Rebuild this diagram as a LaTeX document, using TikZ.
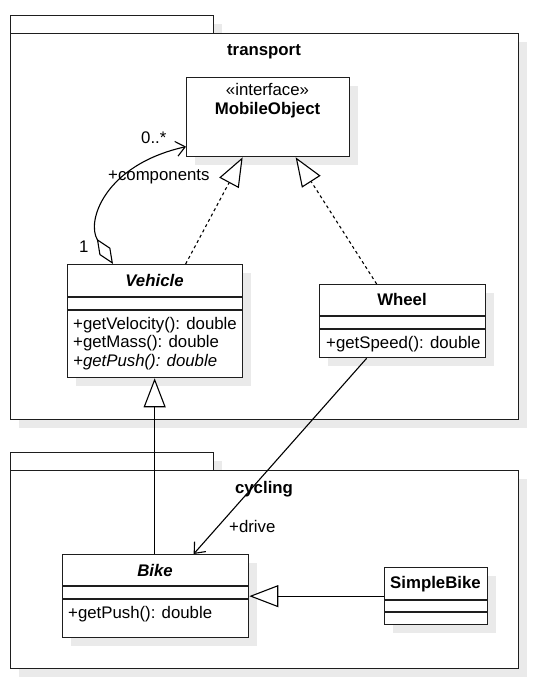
\documentclass[tikz,border=0pt]{standalone}
\usepackage{fontspec}
\setmainfont{Liberation Sans}
\usetikzlibrary{arrows.meta,calc,shadows}
\definecolor{shd}{RGB}{234,234,234}
\definecolor{ln}{RGB}{30,30,30}
\begin{document}
\begin{tikzpicture}[x=1pt,y=-1pt,
  font=\fontsize{16.8}{19}\selectfont,
  box/.style={draw=ln, line width=1.3pt, fill=white, inner sep=0pt, anchor=north west,
    drop shadow={shadow xshift=8pt,shadow yshift=-8pt,fill=shd,opacity=1}},
  sepline/.style={draw=ln, line width=1.3pt},
  txt/.style={inner sep=0pt, anchor=base},
  ltxt/.style={inner sep=0pt, anchor=base west},
  bold/.style={txt, font=\fontsize{16.8}{19}\selectfont\bfseries},
  bolditalic/.style={txt, font=\fontsize{16.8}{19}\selectfont\bfseries\itshape},
  conn/.style={draw=black, line width=1.1pt},
  realize/.style={conn, dash pattern=on 3pt off 3pt, -{Triangle[open,fill=white,length=29pt,width=22pt]}},
  generalize/.style={conn, -{Triangle[open,fill=white,length=29pt,width=22pt]}},
  navig/.style={conn, -{Straight Barb[length=9pt,width=15pt]}},
  aggr/.style={conn, {Diamond[open,fill=white,length=30pt,width=13pt]}-{Straight Barb[length=9pt,width=15pt]}}
]
\useasboundingbox (0,0) rectangle (537,684);

% transport package
\node[box, minimum width=203pt, minimum height=18pt] (ttab) at (10,15) {};
\node[box, minimum width=508pt, minimum height=386pt] (tpkg) at (10,33) {};
\node[bold] (tlabel) at (264,56) {transport};

% cycling package
\node[box, minimum width=203pt, minimum height=18pt] (ctab) at (10,452) {};
\node[box, minimum width=508pt, minimum height=198pt] (cpkg) at (10,470) {};
\node[bold] (clabel) at (264,493) {cycling};

% MobileObject
\node[box, minimum width=163pt, minimum height=79pt] (M) at (186,77) {};
\node[txt] (Mst) at (267.5,96) {«interface»};
\node[bold] (Mname) at (267.5,115) {MobileObject};

% Vehicle
\node[box, minimum width=175pt, minimum height=113pt] (V) at (67,264) {};
\draw[sepline] ($(V.north west)+(0,33)$) -- ($(V.north east)+(0,33)$);
\draw[sepline] ($(V.north west)+(0,46)$) -- ($(V.north east)+(0,46)$);
\node[bolditalic] (Vname) at (154.5,286) {Vehicle};
\node[ltxt] (Vm1) at (73,329) {+getVelocity(): double};
\node[ltxt] (Vm2) at (73,347) {+getMass(): double};
\node[ltxt, font=\fontsize{16.8}{19}\selectfont\itshape] (Vm3) at (73,366) {+getPush(): double};

% Wheel
\node[box, minimum width=166pt, minimum height=73pt] (W) at (319,284) {};
\draw[sepline] ($(W.north west)+(0,32)$) -- ($(W.north east)+(0,32)$);
\draw[sepline] ($(W.north west)+(0,45)$) -- ($(W.north east)+(0,45)$);
\node[bold] (Wname) at (402,305) {Wheel};
\node[ltxt] (Wm1) at (326,348) {+getSpeed(): double};

% Bike
\node[box, minimum width=186pt, minimum height=83pt] (B) at (62,554) {};
\draw[sepline] ($(B.north west)+(0,32)$) -- ($(B.north east)+(0,32)$);
\draw[sepline] ($(B.north west)+(0,45)$) -- ($(B.north east)+(0,45)$);
\node[bolditalic] (Bname) at (155,576) {Bike};
\node[ltxt] (Bm1) at (68,618) {+getPush(): double};

% SimpleBike
\node[box, minimum width=103pt, minimum height=57pt] (S) at (384,567) {};
\draw[sepline] ($(S.north west)+(0,33)$) -- ($(S.north east)+(0,33)$);
\draw[sepline] ($(S.north west)+(0,45)$) -- ($(S.north east)+(0,45)$);
\node[bold] (Sname) at (435.5,588) {SimpleBike};

% connectors
\draw[realize] ($(V.north)+(30.5,0)$) -- ($(M.south)+(-25.5,0)$);
\draw[realize] ($(W.north)+(-26,0)$) -- ($(M.south)+(27.5,0)$);
\draw[generalize] ($(B.north)+(-1,0)$) -- ($(V.south)+(-0.5,0)$);
\draw[generalize] (S.west) -- (S.west -| B.east);
\draw[navig] ($(W.south)+(-36,0)$) -- ($(B.north)+(38,0)$);
\draw[aggr] ($(V.north west)+(46,0)$) .. controls (86,222) and (104,165) .. ($(M.west)+(0,29.5)$);

% labels
\node[ltxt] (lmany) at (141,144) {0..*};
\node[ltxt] (lcomp) at (108,181) {+components};
\node[ltxt] (lone) at (79,253) {1};
\node[ltxt] (ldrive) at (229,532) {+drive};
\end{tikzpicture}
\end{document}
